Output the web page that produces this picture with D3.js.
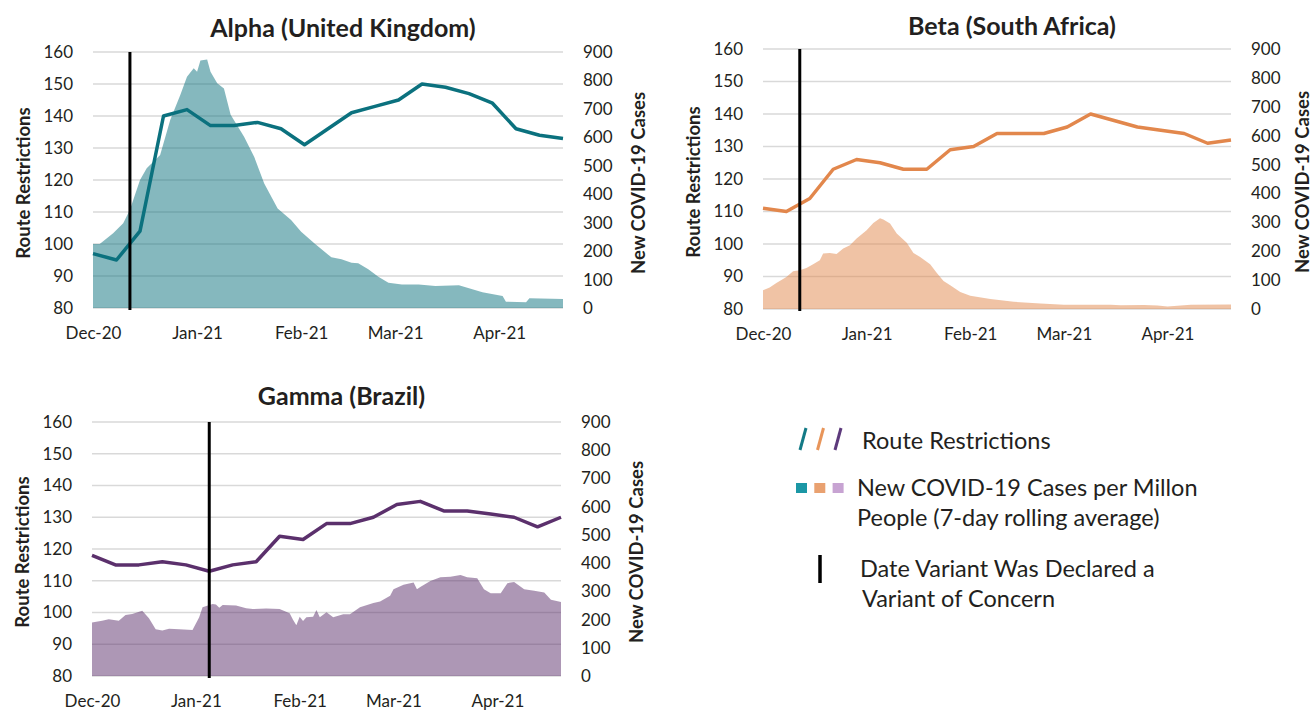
<!DOCTYPE html>
<html>
<head>
<meta charset="utf-8">
<script src="https://cdn.jsdelivr.net/npm/d3@7"></script>
<style>
  body { margin: 0; background: #fff; }
  text { font-family: Lato, sans-serif; fill: #231f20; }
</style>
</head>
<body>
<svg id="chart" width="1314" height="711"></svg>
<script>
// weekly route restriction observations
var routeDates = ['2020-12-01', '2020-12-08', '2020-12-15', '2020-12-22', '2020-12-29',
                  '2021-01-05', '2021-01-12', '2021-01-19', '2021-01-26', '2021-02-02',
                  '2021-02-09', '2021-02-16', '2021-02-23', '2021-03-02', '2021-03-09',
                  '2021-03-16', '2021-03-23', '2021-03-30', '2021-04-06', '2021-04-13', '2021-04-20'];
var alphaRoutes = [97, 95, 104, 140, 142, 137, 137, 138, 136, 131, 136, 141, 143, 145, 150, 149, 147, 144, 136, 134, 133];
var betaRoutes  = [111, 110, 114, 123, 126, 125, 123, 123, 129, 130, 134, 134, 134, 136, 140, 138, 136, 135, 134, 131, 132];
var gammaRoutes = [118, 115, 115, 116, 115, 113, 115, 116, 124, 123, 128, 128, 130, 134, 135, 132, 132, 131, 130, 127, 130];

// new cases per million (7-day average), [date, value]
var alphaCases = [['2020-12-01', 225], ['2020-12-03', 225], ['2020-12-07', 263], ['2020-12-10', 298],
  ['2020-12-12', 345], ['2020-12-15', 450], ['2020-12-17', 491], ['2020-12-21', 538], ['2020-12-24', 661],
  ['2020-12-27', 749], ['2020-12-29', 813], ['2020-12-31', 843], ['2021-01-01', 831], ['2021-01-02', 870],
  ['2021-01-04', 874], ['2021-01-05', 831], ['2021-01-07', 790], ['2021-01-09', 772], ['2021-01-11', 679],
  ['2021-01-15', 602], ['2021-01-18', 532], ['2021-01-21', 438], ['2021-01-25', 350], ['2021-01-29', 309],
  ['2021-02-01', 268], ['2021-02-05', 227], ['2021-02-10', 178], ['2021-02-13', 171], ['2021-02-16', 159],
  ['2021-02-18', 157], ['2021-02-21', 136], ['2021-02-24', 110], ['2021-02-27', 89], ['2021-03-03', 83],
  ['2021-03-08', 83], ['2021-03-13', 77], ['2021-03-20', 80], ['2021-03-23', 69], ['2021-03-27', 55],
  ['2021-04-02', 42], ['2021-04-03', 22], ['2021-04-09', 20], ['2021-04-10', 34], ['2021-04-20', 32]];
var betaCases = [['2020-12-01', 65], ['2020-12-03', 74], ['2020-12-05', 90], ['2020-12-08', 111],
  ['2020-12-10', 131], ['2020-12-12', 134], ['2020-12-14', 142], ['2020-12-16', 155], ['2020-12-18', 169],
  ['2020-12-19', 192], ['2020-12-21', 194], ['2020-12-23', 190], ['2020-12-25', 209], ['2020-12-27', 221],
  ['2020-12-29', 244], ['2021-01-01', 273], ['2021-01-03', 298], ['2021-01-05', 314], ['2021-01-06', 310],
  ['2021-01-08', 296], ['2021-01-10', 261], ['2021-01-13', 229], ['2021-01-15', 194], ['2021-01-17', 180],
  ['2021-01-20', 155], ['2021-01-22', 125], ['2021-01-24', 97], ['2021-01-26', 82], ['2021-01-29', 59],
  ['2021-02-01', 46], ['2021-02-07', 35], ['2021-02-14', 25], ['2021-02-22', 19], ['2021-03-01', 15],
  ['2021-03-09', 15], ['2021-03-15', 15], ['2021-03-18', 13], ['2021-03-25', 14], ['2021-03-29', 12],
  ['2021-04-01', 9], ['2021-04-08', 15], ['2021-04-20', 16]];
var gammaCases = [['2020-12-01', 190], ['2020-12-04', 196], ['2020-12-06', 201], ['2020-12-07', 199],
  ['2020-12-09', 196], ['2020-12-11', 216], ['2020-12-13', 220], ['2020-12-16', 231], ['2020-12-18', 205],
  ['2020-12-20', 166], ['2020-12-22', 161], ['2020-12-24', 167], ['2020-12-27', 166], ['2020-12-31', 163],
  ['2021-01-02', 208], ['2021-01-03', 244], ['2021-01-06', 255], ['2021-01-07', 253], ['2021-01-08', 242],
  ['2021-01-09', 252], ['2021-01-13', 250], ['2021-01-16', 240], ['2021-01-18', 237], ['2021-01-22', 239],
  ['2021-01-26', 237], ['2021-01-29', 222], ['2021-01-30', 199], ['2021-01-31', 180], ['2021-02-01', 210],
  ['2021-02-02', 195], ['2021-02-03', 208], ['2021-02-05', 210], ['2021-02-06', 234], ['2021-02-07', 208],
  ['2021-02-09', 226], ['2021-02-11', 208], ['2021-02-14', 219], ['2021-02-16', 219], ['2021-02-19', 244],
  ['2021-02-23', 259], ['2021-02-25', 264], ['2021-02-28', 284], ['2021-03-01', 307], ['2021-03-04', 323],
  ['2021-03-07', 331], ['2021-03-08', 307], ['2021-03-09', 315], ['2021-03-12', 337], ['2021-03-15', 350],
  ['2021-03-18', 352], ['2021-03-21', 358], ['2021-03-23', 350], ['2021-03-26', 346], ['2021-03-28', 307],
  ['2021-03-30', 293], ['2021-04-02', 293], ['2021-04-04', 329], ['2021-04-06', 333], ['2021-04-09', 307],
  ['2021-04-12', 302], ['2021-04-15', 296], ['2021-04-17', 270], ['2021-04-20', 262]];

var variantDates = ['2020-12-12', '2020-12-12', '2021-01-05'];
var titles = ['Alpha (United Kingdom)', 'Beta (South Africa)', 'Gamma (Brazil)'];
var monthTicks = ['2020-12-01', '2021-01-01', '2021-02-01', '2021-03-01', '2021-04-01'];
var routeTicks = [80, 90, 100, 110, 120, 130, 140, 150, 160];
var caseTicks = [0, 100, 200, 300, 400, 500, 600, 700, 800, 900];

var lineColors = ['#0b717e', '#e2874c', '#5b306c'];
var swatchColors = ['#1b97a5', '#e9a170', '#c7a3d2'];
var slashColors = ['#137a86', '#e8955a', '#5d3a7c'];

var parse = d3.timeParse('%Y-%m-%d');
var svg = d3.select('#chart');

var panels = [
  { title: titles[0], routes: alphaRoutes, cases: alphaCases, variant: variantDates[0], color: lineColors[0],
    left: 93, right: 563, top: 52, bottom: 308, titleY: 37, rightLabelX: 638 },
  { title: titles[1], routes: betaRoutes, cases: betaCases, variant: variantDates[1], color: lineColors[1],
    left: 763, right: 1231, top: 49, bottom: 309, titleY: 35, rightLabelX: 1302 },
  { title: titles[2], routes: gammaRoutes, cases: gammaCases, variant: variantDates[2], color: lineColors[2],
    left: 92, right: 561, top: 422, bottom: 676, titleY: 405, rightLabelX: 636 }
];

panels.forEach(drawPanel);
drawLegend();

function drawPanel(p) {
  var x = d3.scaleTime()
            .domain([parse(routeDates[0]), parse(routeDates[routeDates.length - 1])])
            .range([p.left, p.right]);
  var y = d3.scaleLinear().domain([80, 160]).range([p.bottom, p.top]);
  var y2 = d3.scaleLinear().domain([0, 900]).range([p.bottom, p.top]);

  var g = svg.append('g');

  // gridlines
  g.selectAll('.grid')
   .data(routeTicks)
   .enter().append('line')
     .attr('class', 'grid')
     .attr('x1', p.left).attr('x2', p.right)
     .attr('y1', y).attr('y2', y)
     .attr('stroke', '#d9d9d9')
     .attr('stroke-width', 1.5);

  // cases area
  g.append('path')
   .datum(p.cases)
   .attr('d', d3.area()
     .x(function(d) { return x(parse(d[0])); })
     .y0(y2(0))
     .y1(function(d) { return y2(d[1]); }))
   .attr('fill', p.color)
   .attr('fill-opacity', 0.5);

  // route restrictions
  g.append('path')
   .datum(p.routes)
   .attr('d', d3.line()
     .x(function(d, i) { return x(parse(routeDates[i])); })
     .y(function(d) { return y(d); }))
   .attr('fill', 'none')
   .attr('stroke', p.color)
   .attr('stroke-width', 3.5)
   .attr('stroke-linejoin', 'round');

  // variant of concern date
  var vx = x(parse(p.variant));
  g.append('line')
   .attr('x1', vx).attr('x2', vx)
   .attr('y1', p.top).attr('y2', p.bottom + 2)
   .attr('stroke', '#000')
   .attr('stroke-width', 3);

  // axes
  var xAxis = g.append('g')
   .attr('transform', 'translate(0,' + p.bottom + ')')
   .call(d3.axisBottom(x)
     .tickValues(monthTicks.map(parse))
     .tickFormat(d3.timeFormat('%b-%y'))
     .tickSize(0)
     .tickPadding(19));
  var yAxis = g.append('g')
   .attr('transform', 'translate(' + p.left + ',0)')
   .call(d3.axisLeft(y).tickValues(routeTicks).tickSize(0).tickPadding(20));
  var y2Axis = g.append('g')
   .attr('transform', 'translate(' + p.right + ',0)')
   .call(d3.axisRight(y2).tickValues(caseTicks).tickSize(0).tickPadding(20));

  [xAxis, yAxis, y2Axis].forEach(function(a) {
    a.select('.domain').remove();
    a.selectAll('text').style('font-size', '17px');
  });

  // titles and axis labels
  g.append('text')
   .attr('x', (p.left + p.right) / 2 + 15)
   .attr('y', p.titleY)
   .attr('text-anchor', 'middle')
   .style('font-size', '25px')
   .style('font-weight', 700)
   .text(p.title);

  var midY = (p.top + p.bottom) / 2 + 3;
  g.append('text')
   .attr('transform', 'translate(' + (p.left - 70) + ',' + midY + ') rotate(-90)')
   .attr('text-anchor', 'middle')
   .attr('dominant-baseline', 'central')
   .style('font-size', '18.5px')
   .style('font-weight', 700)
   .text('Route Restrictions');
  g.append('text')
   .attr('transform', 'translate(' + p.rightLabelX + ',' + midY + ') rotate(-90)')
   .attr('text-anchor', 'middle')
   .attr('dominant-baseline', 'central')
   .style('font-size', '18.5px')
   .style('font-weight', 700)
   .text('New COVID-19 Cases');
}

function drawLegend() {
  var lg = svg.append('g');

  // route restriction slashes
  lg.selectAll('.slash')
    .data(slashColors)
    .enter().append('line')
      .attr('x1', function(d, i) { return 800 + i * 17.5; })
      .attr('x2', function(d, i) { return 806 + i * 17.5; })
      .attr('y1', 450).attr('y2', 428)
      .attr('stroke', function(d) { return d; })
      .attr('stroke-width', 3);
  lg.append('text').attr('x', 862).attr('y', 449).style('font-size', '23.5px').text('Route Restrictions');

  // case swatches
  lg.selectAll('.swatch')
    .data(swatchColors)
    .enter().append('rect')
      .attr('x', function(d, i) { return 796 + i * 18.3; })
      .attr('y', 483)
      .attr('width', 11).attr('height', 10)
      .attr('fill', function(d) { return d; });
  lg.append('text').attr('x', 857).attr('y', 496).style('font-size', '23.5px').text('New COVID-19 Cases per Millon');
  lg.append('text').attr('x', 857).attr('y', 526).style('font-size', '23.5px').text('People (7-day rolling average)');

  // variant marker
  lg.append('line')
    .attr('x1', 820).attr('x2', 820)
    .attr('y1', 555).attr('y2', 583)
    .attr('stroke', '#000')
    .attr('stroke-width', 3.5);
  lg.append('text').attr('x', 860).attr('y', 577).style('font-size', '23.5px').text('Date Variant Was Declared a');
  lg.append('text').attr('x', 862).attr('y', 607).style('font-size', '23.5px').text('Variant of Concern');
}
</script>
</body>
</html>
